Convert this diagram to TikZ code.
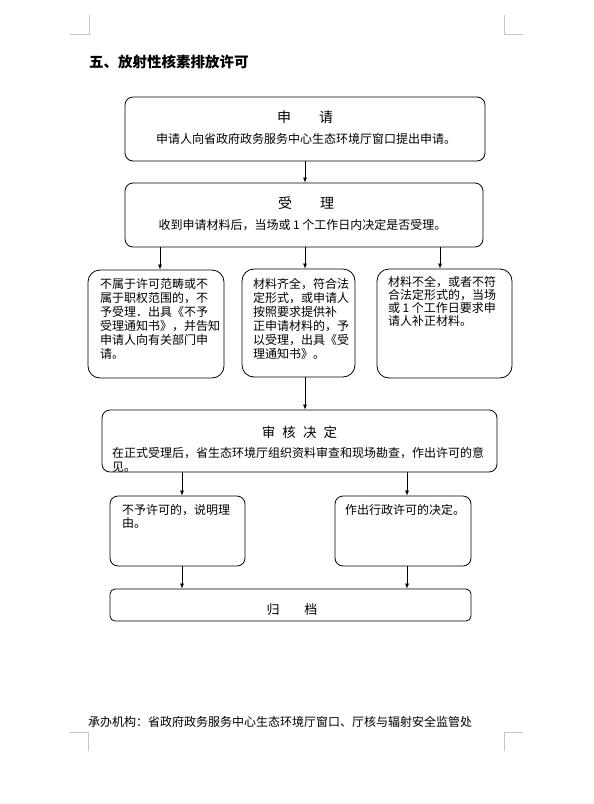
\documentclass[tikz,border=0pt]{standalone}
\usepackage{fontspec}
\setmainfont{Noto Sans CJK SC}
\usetikzlibrary{arrows.meta}
\tikzset{
  box/.style={draw, line width=0.8pt, rounded corners=8pt, inner sep=0pt},
  bigbox/.style={box, rounded corners=12pt},
  arr/.style={-{Latex[length=5pt,width=4pt]}, line width=0.7pt},
  body/.style={inner sep=0pt, font=\fontsize{12}{14}\selectfont, align=left, anchor=north west},
  bodyc/.style={inner sep=0pt, font=\fontsize{12}{14}\selectfont},
  head/.style={inner sep=0pt, font=\fontsize{14}{16}\selectfont},
  cornermark/.style={draw=gray!45, line width=0.6pt}
}
\begin{document}
\begin{tikzpicture}[x=1pt,y=-1pt]
\useasboundingbox (0,0) rectangle (594,804);
% page corner marks
\draw[cornermark] (70,34) -- (89,34) -- (89,15);
\draw[cornermark] (523,34) -- (504,34) -- (504,15);
\draw[cornermark] (70,732) -- (88,732) -- (88,751);
\draw[cornermark] (523,732) -- (504,732) -- (504,751);

% title
\node[inner sep=0pt, anchor=west, font=\fontsize{14.5}{16}\selectfont\bfseries] (title) at (89,62) {五、放射性核素排放许可};

% boxes
\node[box, minimum width=360pt, minimum height=64pt] (b1) at (305,129) {};
\node[box, minimum width=358pt, minimum height=64pt] (b2) at (304,215) {};
\node[bigbox, minimum width=136pt, minimum height=108pt] (b3a) at (156,324) {};
\node[bigbox, minimum width=113pt, minimum height=108pt] (b3b) at (298.5,323) {};
\node[bigbox, minimum width=135pt, minimum height=109pt] (b3c) at (444.5,323.5) {};
\node[box, minimum width=395pt, minimum height=62pt] (b4) at (299.5,441) {};
\node[box, minimum width=135pt, minimum height=70pt] (b5a) at (177.5,531) {};
\node[box, minimum width=136pt, minimum height=70pt] (b5b) at (403,531) {};
\node[box, rounded corners=5pt, minimum width=361pt, minimum height=32pt] (b6) at (290.5,605) {};

% texts
\node[head] (t1h) at (305,117) {申\hspace{2em}请};
\node[bodyc] (t1b) at (306,139) {申请人向省政府政务服务中心生态环境厅窗口提出申请。};
\node[head] (t2h) at (306,203) {受\hspace{2em}理};
\node[bodyc] (t2b) at (302.5,225) {收到申请材料后，当场或\hspace{2.5pt}1\hspace{2.5pt}个工作日内决定是否受理。};
\node[body] (t3a) at (100,278) {不属于许可范畴或不\\属于职权范围的，不\\予受理．出具《不予\\受理通知书》，并告知\\申请人向有关部门申\\请。};
\node[body] (t3b) at (253,278) {材料齐全，符合法\\定形式，或申请人\\按照要求提供补\\正申请材料的，予\\以受理，出具《受\\理通知书》。};
\node[body, font=\fontsize{12}{13}\selectfont] (t3c) at (388,276) {材料不全，或者不符\\合法定形式的，当场\\或\hspace{2.5pt}1\hspace{2.5pt}个工作日要求申\\请人补正材料。};
\node[inner sep=0pt, font=\fontsize{13.5}{15}\selectfont] (t4h) at (299.5,432) {审\hspace{0.52em}核\hspace{0.52em}决\hspace{0.52em}定};
\node[body] (t4b) at (112,447) {在正式受理后，省生态环境厅组织资料审查和现场勘查，作出许可的意\\见。};
\node[body, font=\fontsize{12}{13}\selectfont] (t5a) at (122,504) {不予许可的，说明理\\由。};
\node[body] (t5b) at (345,504) {作出行政许可的决定。};
\node[inner sep=0pt, font=\fontsize{13}{15}\selectfont] (t6) at (292,610) {归\hspace{1.9em}档};

% footer
\node[inner sep=0pt, anchor=west, font=\fontsize{12}{14}\selectfont] (foot) at (88,722) {承办机构：省政府政务服务中心生态环境厅窗口、厅核与辐射安全监管处};

% connector columns
\coordinate (xa) at (160,0);
\coordinate (xb) at (305,0);
\coordinate (xc) at (440,0);
\coordinate (xd) at (182,0);
\coordinate (xe) at (407,0);

\draw[arr] (xb |- b1.south) -- (xb |- b2.north);
\draw[arr] (xa |- b2.south) -- (xa |- b3a.north);
\draw[arr] (xb |- b2.south) -- (xb |- b3b.north);
\draw[arr] (xc |- b2.south) -- (xc |- b3c.north);
\draw[arr] (xb |- b3b.south) -- (xb |- b4.north);
\draw[arr] (xd |- b4.south) -- (xd |- b5a.north);
\draw[arr] (xe |- b4.south) -- (xe |- b5b.north);
\draw[arr] (xd |- b5a.south) -- (xd |- b6.north);
\draw[arr] (xe |- b5b.south) -- (xe |- b6.north);
\end{tikzpicture}
\end{document}
